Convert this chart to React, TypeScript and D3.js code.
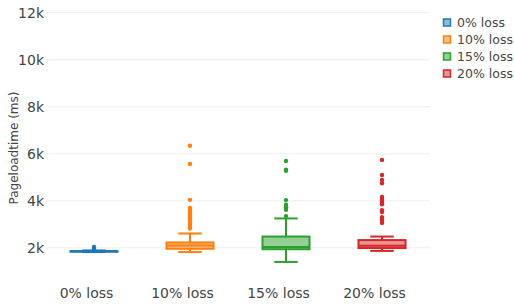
import { useEffect, useRef } from 'react';
import * as d3 from 'd3';

// data (values in ms)
const categories = ['0% loss', '10% loss', '15% loss', '20% loss'];
const colors = ['#1f77b4', '#ff7f0e', '#2ca02c', '#d62728'];
const lowerFence = [1820, 1820, 1400, 1870];
const q1 = [1835, 1960, 1940, 1990];
const median = [1850, 2100, 2040, 2090];
const q3 = [1860, 2230, 2480, 2330];
const upperFence = [1890, 2610, 3250, 2480];
const outliers = [
  [1950, 1990, 2040],
  [6340, 5570, 4040, 3700, 3620, 3540, 3460, 3380, 3300, 3220, 3140, 3060, 2980, 2900, 2820],
  [5690, 5320, 5280, 4030, 3830, 3730, 3620, 3350],
  [5740, 5100, 4890, 4750, 4160, 4080, 4000, 3920, 3850, 3600, 3520, 3300, 3220, 3140, 3060],
];
const yTicks = [2000, 4000, 6000, 8000, 10000, 12000];

const W = 514;
const H = 305;
const FONT = '"DejaVu Sans", Verdana, sans-serif';

export default function App() {
  const ref = useRef<SVGSVGElement | null>(null);

  useEffect(() => {
    const svg = d3.select(ref.current);
    svg.selectAll('*').remove();

    const x = d3.scaleBand<string>().domain(categories).range([46, 430]);
    const y = d3.scaleLinear().domain([1100, 12200]).range([269, 8]);
    const boxW = x.bandwidth() * 0.49;

    // grid
    svg
      .append('g')
      .selectAll('line')
      .data(yTicks)
      .enter()
      .append('line')
      .attr('x1', 46)
      .attr('x2', 430)
      .attr('y1', d => y(d))
      .attr('y2', d => y(d))
      .attr('stroke', '#eee')
      .attr('stroke-width', 1);

    // y tick labels
    svg
      .append('g')
      .selectAll('text')
      .data(yTicks)
      .enter()
      .append('text')
      .attr('x', 44)
      .attr('y', d => y(d))
      .attr('dy', '0.36em')
      .attr('text-anchor', 'end')
      .attr('font-family', FONT)
      .attr('font-size', 14)
      .attr('fill', '#444')
      .text(d => d3.format('~s')(d));

    // y title
    svg
      .append('text')
      .attr('transform', `translate(18, 148) rotate(-90)`)
      .attr('text-anchor', 'middle')
      .attr('font-family', FONT)
      .attr('font-size', 12)
      .attr('fill', '#444')
      .text('Pageloadtime (ms)');

    // x tick labels (sit a little left of the boxes in the original)
    svg
      .append('g')
      .selectAll('text')
      .data(categories)
      .enter()
      .append('text')
      .attr('x', d => x(d)! + x.bandwidth() / 2 - 7.5)
      .attr('y', 298)
      .attr('text-anchor', 'middle')
      .attr('font-family', FONT)
      .attr('font-size', 14)
      .attr('fill', '#444')
      .text(d => d);

    // boxes
    const g = svg
      .append('g')
      .selectAll('g')
      .data(categories)
      .enter()
      .append('g')
      .attr('transform', d => `translate(${x(d)! + x.bandwidth() / 2},0)`);

    g.append('line')
      .attr('y1', (d, i) => y(lowerFence[i]))
      .attr('y2', (d, i) => y(q1[i]))
      .attr('stroke', (d, i) => colors[i])
      .attr('stroke-width', 2);
    g.append('line')
      .attr('y1', (d, i) => y(q3[i]))
      .attr('y2', (d, i) => y(upperFence[i]))
      .attr('stroke', (d, i) => colors[i])
      .attr('stroke-width', 2);
    g.append('line')
      .attr('x1', -boxW / 4)
      .attr('x2', boxW / 4)
      .attr('y1', (d, i) => y(lowerFence[i]))
      .attr('y2', (d, i) => y(lowerFence[i]))
      .attr('stroke', (d, i) => colors[i])
      .attr('stroke-width', 2);
    g.append('line')
      .attr('x1', -boxW / 4)
      .attr('x2', boxW / 4)
      .attr('y1', (d, i) => y(upperFence[i]))
      .attr('y2', (d, i) => y(upperFence[i]))
      .attr('stroke', (d, i) => colors[i])
      .attr('stroke-width', 2);
    g.append('rect')
      .attr('x', -boxW / 2)
      .attr('width', boxW)
      .attr('y', (d, i) => y(q3[i]))
      .attr('height', (d, i) => y(q1[i]) - y(q3[i]))
      .attr('fill', (d, i) => colors[i])
      .attr('fill-opacity', 0.5)
      .attr('stroke', (d, i) => colors[i])
      .attr('stroke-width', 2);
    g.append('line')
      .attr('x1', -boxW / 2)
      .attr('x2', boxW / 2)
      .attr('y1', (d, i) => y(median[i]))
      .attr('y2', (d, i) => y(median[i]))
      .attr('stroke', (d, i) => colors[i])
      .attr('stroke-width', 2);

    g.each(function (d, i) {
      d3.select(this)
        .selectAll('circle')
        .data(outliers[i])
        .enter()
        .append('circle')
        .attr('cx', 0)
        .attr('cy', v => y(v))
        .attr('r', 2.2)
        .attr('fill', colors[i]);
    });

    // legend
    const leg = svg
      .append('g')
      .selectAll('g')
      .data(categories)
      .enter()
      .append('g')
      .attr('transform', (d, i) => `translate(447, ${22.5 + i * 17})`);
    leg
      .append('rect')
      .attr('x', -3.5)
      .attr('y', -3.5)
      .attr('width', 7)
      .attr('height', 7)
      .attr('fill', (d, i) => colors[i])
      .attr('fill-opacity', 0.5)
      .attr('stroke', (d, i) => colors[i])
      .attr('stroke-width', 1.5);
    leg
      .append('text')
      .attr('x', 10)
      .attr('dy', '0.36em')
      .attr('font-family', FONT)
      .attr('font-size', 12.5)
      .attr('fill', '#444')
      .text(d => d);
  }, []);

  return (
    <svg
      ref={ref}
      width={W}
      height={H}
      style={{ position: 'absolute', left: 0, top: 0, background: '#fff' }}
    ></svg>
  );
}
